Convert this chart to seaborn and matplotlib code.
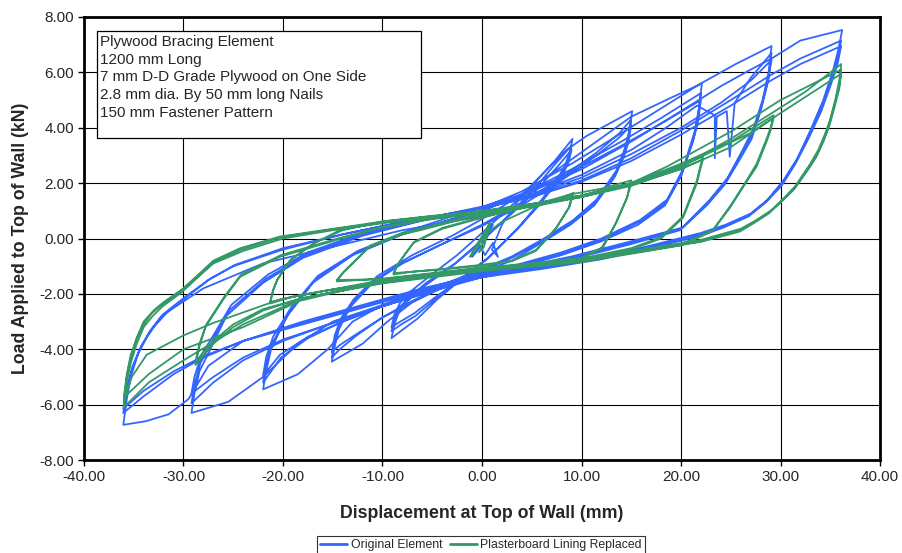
import matplotlib
matplotlib.use("Agg")
import matplotlib.pyplot as plt
from matplotlib.lines import Line2D
from matplotlib.patches import Rectangle
from matplotlib.ticker import FormatStrFormatter
from matplotlib import font_manager
import pandas as pd
import seaborn as sns

# ---------------------------------------------------------------
# Cyclic test records: (displacement at top of wall [mm], load [kN])
# Each list holds the load history for one displacement amplitude.
# ---------------------------------------------------------------
orig_start = [(0.0, 0.0), (0.7, 0.35), (1.1, 0.5), (0.3, -0.1), (-0.5, -0.45), (-1.0, -0.66),
              (-0.2, -0.25), (0.3, -0.6), (1.1, -0.16), (1.6, -0.66), (1.0, -0.4), (2.0, 0.5),
              (3.5, 1.3), (5.5, 2.1), (7.3, 2.8), (9.1, 3.6)]

orig_09 = [(8.8, 3.1), (8.3, 2.6), (7.8, 2.3), (6.0, 1.4), (3.8, 0.45), (0.8, -0.65), (-2.0, -1.45),
           (-4.5, -2.2), (-6.5, -2.9), (-8.0, -3.3), (-9.1, -3.6),
           (-8.8, -3.1), (-8.3, -2.6), (-7.6, -2.3), (-5.9, -1.75), (-3.0, -1.0), (0.0, -0.1), (3.0, 0.95),
           (5.5, 1.9), (7.5, 2.75), (9.0, 3.35),
           (8.7, 2.9), (8.2, 2.45), (7.6, 2.15), (5.8, 1.25), (3.6, 0.35), (0.6, -0.7), (-2.2, -1.5),
           (-4.7, -2.2), (-6.7, -2.8), (-8.1, -3.1), (-9.1, -3.35),
           (-8.8, -2.9), (-8.2, -2.45), (-7.4, -2.15), (-5.6, -1.6), (-2.7, -0.9), (0.0, -0.05), (3.0, 0.9),
           (5.6, 1.8), (7.6, 2.6), (9.0, 3.2),
           (8.7, 2.75), (8.1, 2.3), (7.5, 2.0), (5.6, 1.15), (3.4, 0.3), (0.5, -0.75), (-2.3, -1.5),
           (-4.8, -2.15), (-6.8, -2.7), (-8.2, -3.0), (-9.1, -3.2),
           (-8.8, -2.75), (-8.2, -2.3), (-7.3, -1.95), (-5.4, -1.4), (-2.5, -0.6), (0.0, 0.2), (3.0, 1.2),
           (6.0, 2.3), (8.5, 3.2), (10.5, 3.7), (12.8, 4.15), (15.1, 4.6)]

orig_15 = [(14.8, 3.9), (14.4, 3.3), (13.5, 2.45), (11.5, 1.4), (9.2, 0.67), (6.0, -0.05), (3.0, -0.65),
           (0.0, -1.1), (-3.5, -1.6), (-7.0, -2.3), (-9.5, -3.0), (-12.0, -3.8), (-15.1, -4.45),
           (-14.8, -3.9), (-14.4, -3.3), (-13.3, -2.5), (-11.0, -1.6), (-8.0, -0.9), (-4.0, -0.2),
           (0.0, 0.5), (4.0, 1.3), (8.0, 2.2), (11.5, 3.1), (13.8, 3.8), (15.0, 4.3),
           (14.7, 3.6), (14.3, 3.05), (13.4, 2.3), (11.4, 1.3), (9.0, 0.6), (6.0, -0.1), (3.0, -0.7),
           (0.0, -1.15), (-3.5, -1.65), (-7.0, -2.25), (-10.0, -2.85), (-12.6, -3.5), (-14.3, -4.0),
           (-15.1, -4.3),
           (-14.8, -3.7), (-14.3, -3.1), (-13.1, -2.35), (-10.8, -1.5), (-7.8, -0.85), (-4.0, -0.2),
           (0.0, 0.45), (4.0, 1.2), (8.0, 2.1), (11.5, 3.0), (13.8, 3.65), (15.0, 4.1),
           (14.7, 3.45), (14.2, 2.9), (13.3, 2.2), (11.3, 1.2), (8.9, 0.5), (6.0, -0.15), (3.0, -0.8),
           (0.0, -1.2), (-3.5, -1.7), (-7.0, -2.3), (-10.0, -2.85), (-12.6, -3.45), (-14.3, -3.85),
           (-15.1, -4.1),
           (-14.8, -3.5), (-14.2, -2.9), (-12.9, -2.2), (-10.5, -1.35), (-7.0, -0.6), (-3.0, 0.1), (0.0, 0.7),
           (4.0, 1.6), (8.0, 2.6), (11.5, 3.5), (15.0, 4.4), (18.5, 5.0), (22.1, 5.6)]

orig_22 = [(21.8, 4.7), (21.4, 3.9), (20.2, 2.5), (18.6, 1.4), (15.9, 0.67), (12.0, 0.0), (8.0, -0.5),
           (4.0, -0.9), (0.0, -1.25), (-5.0, -1.75), (-10.0, -2.4), (-13.0, -3.0), (-15.5, -4.0),
           (-18.5, -4.9), (-22.0, -5.45),
           (-21.7, -4.8), (-21.2, -4.0), (-19.6, -2.8), (-17.0, -1.6), (-13.0, -0.6), (-8.0, 0.15),
           (-3.0, 0.7), (0.0, 1.0), (4.0, 1.6), (9.0, 2.5), (14.0, 3.5), (18.0, 4.35), (22.0, 5.25),
           (21.7, 4.4), (21.3, 3.65), (20.1, 2.35), (18.5, 1.3), (15.8, 0.6), (12.0, -0.05), (8.0, -0.55),
           (4.0, -0.95), (0.0, -1.3), (-5.0, -1.8), (-10.0, -2.45), (-14.0, -3.0), (-17.5, -3.6),
           (-20.2, -4.3), (-22.0, -5.2),
           (-21.7, -4.55), (-21.1, -3.8), (-19.4, -2.7), (-16.8, -1.5), (-12.8, -0.55), (-8.0, 0.15),
           (-3.0, 0.7), (0.0, 1.0), (4.0, 1.55), (9.0, 2.4), (14.0, 3.35), (18.0, 4.15), (22.0, 5.0),
           (21.7, 4.2), (21.2, 3.5), (20.0, 2.25), (18.4, 1.2), (15.7, 0.5), (12.0, -0.1), (8.0, -0.6),
           (4.0, -1.0), (0.0, -1.3), (-5.0, -1.8), (-10.0, -2.45), (-14.0, -3.0), (-17.5, -3.55),
           (-20.3, -4.2), (-22.0, -4.95),
           (-21.7, -4.3), (-21.0, -3.55), (-19.2, -2.5), (-16.5, -1.35), (-12.5, -0.45), (-8.0, 0.2),
           (-3.0, 0.8), (0.0, 1.1), (4.0, 1.7), (9.0, 2.7), (14.0, 3.8), (18.0, 4.7), (22.0, 5.6),
           (25.5, 6.3), (29.1, 6.95)]

orig_29 = [(28.8, 6.0), (28.2, 5.0), (27.3, 4.0), (26.2, 3.2), (24.7, 2.2), (22.9, 1.4), (20.2, 0.4),
           (15.0, -0.1), (9.0, -0.65), (3.0, -1.1), (0.0, -1.3), (-5.0, -1.85), (-10.0, -2.4),
           (-15.0, -3.0), (-18.5, -3.8), (-22.0, -5.0), (-25.5, -5.9), (-29.2, -6.3),
           (-28.9, -5.6), (-28.4, -4.8), (-27.3, -4.0), (-25.7, -2.8), (-22.0, -1.6), (-18.0, -0.7),
           (-12.0, 0.1), (-6.0, 0.65), (0.0, 1.1), (5.0, 1.6), (10.0, 2.3), (15.0, 3.2), (18.5, 4.0),
           (21.6, 4.8), (23.4, 4.45), (23.4, 2.9), (23.6, 4.4), (24.6, 4.6), (24.9, 2.95), (25.4, 4.9),
           (27.0, 5.8), (29.1, 6.7),
           (28.8, 5.8), (28.1, 4.8), (27.2, 3.8), (26.0, 3.0), (24.5, 2.05), (22.7, 1.3), (20.0, 0.35),
           (15.0, -0.15), (9.0, -0.7), (3.0, -1.15), (0.0, -1.35), (-5.0, -1.9), (-10.0, -2.45),
           (-15.0, -3.05), (-20.0, -3.7), (-24.0, -4.4), (-27.0, -5.2), (-29.2, -5.95),
           (-28.9, -5.3), (-28.3, -4.5), (-27.1, -3.7), (-25.4, -2.6), (-21.7, -1.45), (-17.7, -0.6),
           (-12.0, 0.15), (-6.0, 0.65), (0.0, 1.1), (5.0, 1.55), (10.0, 2.2), (15.0, 3.05), (20.0, 4.0),
           (24.0, 4.9), (27.0, 5.7), (29.1, 6.45),
           (28.7, 5.6), (28.0, 4.6), (27.1, 3.6), (25.9, 2.85), (24.4, 1.95), (22.6, 1.2), (19.9, 0.3),
           (15.0, -0.2), (9.0, -0.75), (3.0, -1.2), (0.0, -1.4), (-5.0, -1.9), (-10.0, -2.45),
           (-15.0, -3.05), (-20.0, -3.65), (-24.0, -4.3), (-27.0, -5.0), (-29.2, -5.6),
           (-28.9, -5.0), (-28.2, -4.2), (-27.0, -3.5), (-25.2, -2.4), (-21.5, -1.3), (-17.5, -0.5),
           (-12.0, 0.2), (-6.0, 0.7), (0.0, 1.15), (5.0, 1.7), (10.0, 2.5), (15.0, 3.5), (20.0, 4.6),
           (24.0, 5.5), (27.0, 6.1), (29.1, 6.5), (32.0, 7.15), (36.2, 7.53)]

orig_36 = [(35.8, 6.8), (35.3, 6.1), (34.3, 5.0), (33.0, 3.9), (31.7, 2.9), (30.3, 2.1), (28.7, 1.4),
           (27.0, 0.9), (24.5, 0.5), (22.0, 0.2), (17.0, -0.25), (12.0, -0.67), (6.0, -1.0), (0.0, -1.3),
           (-6.0, -1.8), (-12.0, -2.4), (-18.0, -3.0), (-24.0, -3.7), (-27.5, -4.6), (-29.5, -5.8),
           (-31.5, -6.35), (-33.8, -6.6), (-36.05, -6.73),
           (-35.7, -5.8), (-35.3, -5.0), (-34.6, -4.2), (-33.6, -3.5), (-32.3, -2.85), (-30.0, -2.2),
           (-27.5, -1.5), (-25.0, -1.0), (-20.0, -0.4), (-14.0, 0.15), (-8.0, 0.6), (0.0, 1.1), (5.0, 1.5),
           (10.0, 2.1), (15.0, 2.9), (20.0, 3.9), (25.0, 5.0), (29.0, 5.9), (32.0, 6.5), (36.1, 7.15),
           (35.7, 6.4), (35.2, 5.8), (34.2, 4.8), (32.9, 3.75), (31.6, 2.8), (30.2, 2.0), (28.6, 1.35),
           (26.9, 0.85), (24.4, 0.45), (22.0, 0.15), (17.0, -0.3), (12.0, -0.7), (6.0, -1.05),
           (0.0, -1.35), (-6.0, -1.85), (-12.0, -2.45), (-18.0, -3.05), (-24.0, -3.7), (-28.0, -4.3),
           (-31.0, -4.9), (-34.0, -5.7), (-36.05, -6.3),
           (-35.7, -5.5), (-35.2, -4.75), (-34.4, -4.0), (-33.4, -3.35), (-32.1, -2.75), (-29.8, -2.1),
           (-27.3, -1.45), (-24.8, -0.95), (-20.0, -0.35), (-14.0, 0.15), (-8.0, 0.6), (0.0, 1.1),
           (5.0, 1.5), (10.0, 2.05), (15.0, 2.8), (20.0, 3.75), (25.0, 4.8), (29.0, 5.7), (32.0, 6.3),
           (36.1, 6.95),
           (35.7, 6.25), (35.1, 5.6), (34.1, 4.6), (32.8, 3.6), (31.5, 2.7), (30.1, 1.9), (28.5, 1.3),
           (26.8, 0.8), (24.3, 0.4), (22.0, 0.1), (17.0, -0.35), (12.0, -0.75), (6.0, -1.1), (0.0, -1.4),
           (-6.0, -1.9), (-12.0, -2.5), (-18.0, -3.1), (-24.0, -3.7), (-28.0, -4.25), (-31.0, -4.8),
           (-34.0, -5.5), (-36.05, -6.15),
           (-35.7, -5.4), (-35.1, -4.6), (-34.2, -3.85), (-33.0, -3.2), (-31.6, -2.65), (-28.0, -1.8),
           (-22.0, -0.9), (-15.0, -0.3), (-8.0, 0.3), (0.0, 0.8)]

repl_start = [(0.0, 0.0), (0.8, 0.56), (-0.9, -0.45), (-1.2, -0.66), (0.3, 0.1), (0.8, 0.56),
              (0.2, -0.3), (-0.3, -0.5), (0.5, 0.2), (2.0, 0.6), (5.0, 1.1), (7.5, 1.4), (9.2, 1.65)]

repl_09 = [(9.0, 1.4), (8.8, 1.15), (7.5, 0.4), (5.5, -0.4), (3.0, -0.8), (0.0, -0.95), (-4.0, -1.1),
           (-7.0, -1.2), (-8.9, -1.3),
           (-8.5, -0.95), (-7.8, -0.6), (-6.9, -0.16), (-4.0, 0.35), (0.0, 0.75), (4.0, 1.1), (7.0, 1.35),
           (9.1, 1.6),
           (8.9, 1.35), (8.7, 1.1), (7.4, 0.35), (5.4, -0.45), (3.0, -0.82), (0.0, -0.98), (-4.0, -1.12),
           (-7.0, -1.2), (-8.9, -1.25),
           (-8.4, -0.9), (-7.7, -0.55), (-6.8, -0.12), (-4.0, 0.38), (0.0, 0.78), (4.0, 1.1), (9.0, 1.6),
           (12.0, 1.8), (15.0, 2.1)]

repl_15 = [(14.8, 1.85), (14.6, 1.5), (13.5, 0.6), (12.2, -0.3), (10.0, -0.7), (5.0, -0.9), (0.0, -1.05),
           (-5.0, -1.25), (-10.0, -1.45), (-14.6, -1.55),
           (-14.0, -1.25), (-13.0, -0.9), (-11.3, -0.3), (-8.0, 0.15), (-6.2, 0.3), (-3.0, 0.6), (0.0, 0.85),
           (5.0, 1.15), (10.0, 1.5), (15.0, 2.0),
           (14.8, 1.75), (14.5, 1.4), (13.4, 0.5), (12.0, -0.35), (10.0, -0.72), (5.0, -0.92),
           (0.0, -1.07), (-5.0, -1.27), (-10.0, -1.47), (-14.6, -1.5),
           (-13.9, -1.2), (-12.9, -0.85), (-11.2, -0.25), (-8.0, 0.2), (-3.0, 0.65), (0.0, 0.9),
           (5.0, 1.2), (10.0, 1.55), (15.0, 2.0), (18.5, 2.45), (22.2, 2.95)]

repl_22 = [(21.9, 2.55), (21.6, 2.1), (20.2, 0.8), (18.0, 0.05), (15.0, -0.35), (10.0, -0.72), (0.0, -1.1),
           (-10.0, -1.55), (-16.0, -1.9), (-19.0, -2.1), (-21.3, -2.35),
           (-21.0, -1.9), (-20.6, -1.5), (-19.3, -0.8), (-17.0, -0.2), (-14.3, 0.3), (-10.0, 0.6),
           (-5.0, 0.8), (0.0, 0.95), (5.0, 1.2), (10.0, 1.5), (15.0, 1.9), (19.0, 2.4), (22.2, 2.85),
           (21.9, 2.45), (21.6, 2.0), (20.2, 0.75), (18.0, 0.0), (15.0, -0.4), (10.0, -0.75), (0.0, -1.12),
           (-10.0, -1.57), (-16.0, -1.9), (-19.0, -2.1), (-21.3, -2.3),
           (-21.0, -1.85), (-20.5, -1.45), (-19.2, -0.75), (-16.8, -0.15), (-14.0, 0.3), (-10.0, 0.62),
           (-5.0, 0.82), (0.0, 0.97), (5.0, 1.22), (10.0, 1.55), (15.0, 2.0), (20.0, 2.7), (25.0, 3.5),
           (29.3, 4.45)]

repl_29 = [(29.0, 4.0), (28.6, 3.6), (27.6, 2.7), (26.6, 2.1), (25.0, 1.2), (23.2, 0.3), (20.0, -0.2),
           (15.0, -0.5), (10.0, -0.8), (0.0, -1.15), (-10.0, -1.6), (-18.0, -2.15), (-22.0, -2.6),
           (-25.0, -3.2), (-27.0, -3.8), (-28.8, -4.57),
           (-28.4, -3.9), (-27.8, -3.2), (-26.0, -2.2), (-24.3, -1.38), (-20.3, -0.66), (-14.6, -0.05),
           (-10.0, 0.4), (-5.0, 0.7), (0.0, 0.92), (5.0, 1.2), (10.0, 1.5), (15.0, 1.95), (20.0, 2.5),
           (25.0, 3.3), (29.3, 4.35),
           (29.0, 3.9), (28.6, 3.5), (27.6, 2.6), (26.5, 2.0), (24.9, 1.1), (23.1, 0.25), (20.0, -0.25),
           (15.0, -0.55), (10.0, -0.85), (0.0, -1.18), (-10.0, -1.62), (-18.0, -2.15), (-22.0, -2.55),
           (-25.0, -3.1), (-27.0, -3.7), (-28.8, -4.45),
           (-28.4, -3.8), (-27.7, -3.1), (-25.9, -2.1), (-24.2, -1.3), (-20.2, -0.6), (-14.5, 0.0),
           (-10.0, 0.42), (-5.0, 0.72), (0.0, 0.95), (5.0, 1.25), (10.0, 1.55), (15.0, 2.0), (20.0, 2.6),
           (25.0, 3.6), (29.0, 4.5), (32.5, 5.3), (36.1, 6.3)]

repl_36 = [(35.9, 5.7), (35.5, 5.0), (35.0, 4.3), (34.5, 3.8), (33.8, 3.2), (33.0, 2.7), (31.5, 1.9),
           (30.2, 1.4), (29.0, 1.0), (27.5, 0.65), (26.0, 0.35), (22.0, -0.05), (16.0, -0.4), (10.0, -0.75),
           (0.0, -1.1), (-10.0, -1.5), (-20.3, -2.2), (-27.0, -3.05), (-30.0, -3.5), (-33.7, -4.2),
           (-35.2, -5.0), (-36.0, -5.9),
           (-35.7, -5.0), (-35.3, -4.3), (-34.7, -3.6), (-34.0, -3.1), (-33.2, -2.7), (-32.2, -2.4),
           (-30.3, -1.9), (-28.5, -1.3), (-27.0, -0.8), (-24.3, -0.35), (-20.3, 0.07), (-15.0, 0.35),
           (-10.25, 0.6), (-5.0, 0.8), (0.0, 1.0), (5.0, 1.25), (10.0, 1.55), (15.0, 2.0), (18.6, 2.6),
           (25.2, 3.9), (30.0, 5.0), (36.1, 6.1),
           (35.9, 5.5), (35.4, 4.8), (34.9, 4.15), (34.4, 3.6), (33.7, 3.05), (32.9, 2.6), (31.4, 1.8),
           (30.1, 1.35), (28.9, 0.95), (27.4, 0.6), (26.0, 0.3), (22.0, -0.1), (16.0, -0.45),
           (10.0, -0.78), (0.0, -1.12), (-10.0, -1.52), (-18.3, -2.2), (-24.0, -3.1), (-30.0, -4.4),
           (-33.5, -5.2), (-36.0, -6.1),
           (-35.7, -5.2), (-35.3, -4.5), (-34.7, -3.8), (-34.0, -3.2), (-33.1, -2.8), (-32.1, -2.45),
           (-30.2, -1.95), (-28.4, -1.35), (-26.9, -0.85), (-24.2, -0.4), (-20.2, 0.05), (-15.0, 0.33),
           (-10.0, 0.58), (-5.0, 0.78), (0.0, 0.98), (5.0, 1.22), (10.0, 1.5), (15.0, 1.95), (20.0, 2.6),
           (26.9, 3.8), (30.3, 4.6), (36.1, 5.95),
           (35.9, 5.4), (35.4, 4.7), (34.9, 4.05), (34.3, 3.5), (33.6, 2.95), (32.8, 2.5), (31.3, 1.75),
           (30.0, 1.3), (28.8, 0.9), (27.3, 0.55), (25.9, 0.25), (22.0, -0.12), (16.0, -0.47),
           (10.0, -0.8), (0.0, -1.14), (-10.0, -1.54), (-18.3, -2.25), (-24.0, -3.2), (-30.0, -4.0),
           (-33.5, -4.9), (-36.0, -5.75),
           (-35.7, -4.9), (-35.3, -4.2), (-34.6, -3.5), (-34.0, -3.0), (-33.0, -2.6), (-32.0, -2.3),
           (-30.0, -1.8), (-27.0, -0.9), (-24.0, -0.45), (-20.0, 0.0), (-15.0, 0.3), (-10.0, 0.55),
           (0.0, 0.95)]

series_labels = ["Original Element", "Plasterboard Lining Replaced"]
series_colors = ["#3366FF", "#339966"]

note_lines = ["Plywood Bracing Element",
              "1200 mm Long",
              "7 mm D-D Grade Plywood on One Side",
              "2.8 mm dia. By 50 mm long Nails",
              "150 mm Fastener Pattern"]

x_ticks = [-40, -30, -20, -10, 0, 10, 20, 30, 40]
y_ticks = [-8, -6, -4, -2, 0, 2, 4, 6, 8]

# ---------------------------------------------------------------
histories = {
    series_labels[0]: [orig_start, orig_09, orig_15, orig_22, orig_29, orig_36],
    series_labels[1]: [repl_start, repl_09, repl_15, repl_22, repl_29, repl_36],
}
rows = []
for label, parts in histories.items():
    step = 0
    for part in parts:
        for d, f in part:
            rows.append({"series": label, "step": step, "disp": d, "load": f})
            step += 1
df = pd.DataFrame(rows)

sns.set_style("white")
plt.rcParams["font.family"] = ["Liberation Sans", "DejaVu Sans"]

installed = {f.name for f in font_manager.fontManager.ttflist}
legend_family = ["Liberation Sans Narrow"] if "Liberation Sans Narrow" in installed else ["Liberation Sans"]

fig = plt.figure(figsize=(9.03, 5.53), dpi=100)
ax = fig.add_axes([84 / 903, 1 - 460 / 553, (880 - 84) / 903, (460 - 17) / 553])

sns.lineplot(data=df, x="disp", y="load", hue="series", hue_order=series_labels,
             palette=series_colors, sort=False, estimator=None, linewidth=1.3,
             legend=False, ax=ax, zorder=3)
for ln in ax.lines:
    ln.set_solid_joinstyle("round")
    ln.set_solid_capstyle("round")

ax.set_xlim(-40, 40)
ax.set_ylim(-8, 8)
ax.set_xticks(x_ticks)
ax.set_yticks(y_ticks)
ax.xaxis.set_major_formatter(FormatStrFormatter("%.2f"))
ax.yaxis.set_major_formatter(FormatStrFormatter("%.2f"))
ax.grid(True, color="black", linewidth=0.8, zorder=0)
ax.set_axisbelow(True)
for s in ax.spines.values():
    s.set_visible(True)
    s.set_color("black")
    s.set_linewidth(2.0)
ax.tick_params(axis="both", direction="out", length=4, width=1, color="black",
               labelsize=11, pad=3, bottom=True, left=True)

ax.set_xlabel("Displacement at Top of Wall (mm)", fontsize=12.8, fontweight="bold", labelpad=15)
ax.set_ylabel("Load Applied to Top of Wall (kN)", fontsize=12.8, fontweight="bold", labelpad=8)

# description box
x0 = (97 - 84) / 796
x1 = (421 - 84) / 796
y_top = (460 - 31) / 443
y_bot = (460 - 138) / 443
ax.add_patch(Rectangle((x0, y_bot), x1 - x0, y_top - y_bot, transform=ax.transAxes,
                       facecolor="white", edgecolor="black", linewidth=0.9, zorder=5))
ax.text((100 - 84) / 796, (460 - 35) / 443, "\n".join(note_lines), transform=ax.transAxes,
        ha="left", va="top", fontsize=11, linespacing=1.33, zorder=6)

handles = [Line2D([], [], color=c, linewidth=2) for c in series_colors]
leg = fig.legend(handles, series_labels, loc="upper center", bbox_to_anchor=(481 / 903, 1 - 536 / 553),
                 ncol=2, frameon=True, fancybox=False, edgecolor="black",
                 handlelength=2.2, handletextpad=0.3, columnspacing=0.6, borderpad=0.25,
                 borderaxespad=0, prop={"family": legend_family, "size": 8.8})
leg.get_frame().set_linewidth(0.8)

fig.savefig("out.png", dpi=100)
